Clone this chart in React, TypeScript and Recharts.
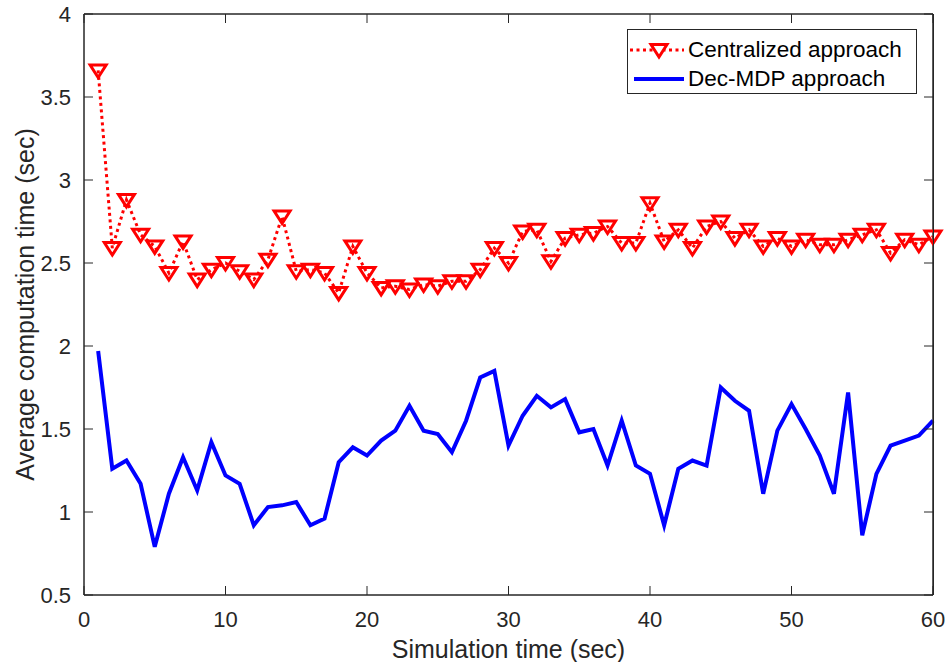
import { LineChart, Line, XAxis, YAxis, Legend, CartesianGrid } from 'recharts'

// Tiempo medio de cómputo por segundo de simulación: enfoque centralizado
// (línea punteada con triángulos) frente a Dec-MDP (línea continua azul).

const simTime = [
  1, 2, 3, 4, 5, 6, 7, 8, 9, 10, 11, 12, 13, 14, 15, 16, 17, 18, 19, 20,
  21, 22, 23, 24, 25, 26, 27, 28, 29, 30, 31, 32, 33, 34, 35, 36, 37, 38, 39, 40,
  41, 42, 43, 44, 45, 46, 47, 48, 49, 50, 51, 52, 53, 54, 55, 56, 57, 58, 59, 60,
]

const centralized = [
  3.66, 2.59, 2.88, 2.67, 2.60, 2.44, 2.63, 2.40, 2.46, 2.50,
  2.45, 2.40, 2.52, 2.78, 2.45, 2.46, 2.44, 2.32, 2.60, 2.44,
  2.35, 2.36, 2.34, 2.37, 2.36, 2.39, 2.39, 2.46, 2.59, 2.50,
  2.69, 2.70, 2.51, 2.65, 2.67, 2.68, 2.72, 2.62, 2.62, 2.86,
  2.63, 2.70, 2.59, 2.72, 2.75, 2.65, 2.70, 2.60, 2.65, 2.60,
  2.64, 2.61, 2.61, 2.64, 2.67, 2.70, 2.56, 2.64, 2.61, 2.66,
]

const decMdp = [
  1.97, 1.26, 1.31, 1.17, 0.79, 1.11, 1.33, 1.13, 1.42, 1.22,
  1.17, 0.92, 1.03, 1.04, 1.06, 0.92, 0.96, 1.30, 1.39, 1.34,
  1.43, 1.49, 1.64, 1.49, 1.47, 1.36, 1.55, 1.81, 1.85, 1.40,
  1.58, 1.70, 1.63, 1.68, 1.48, 1.50, 1.28, 1.55, 1.28, 1.23,
  0.92, 1.26, 1.31, 1.28, 1.75, 1.67, 1.61, 1.11, 1.49, 1.65,
  1.50, 1.34, 1.11, 1.72, 0.86, 1.23, 1.40, 1.43, 1.46, 1.55,
]

const xTicks = [0, 10, 20, 30, 40, 50, 60]
const yTicks = [0.5, 1, 1.5, 2, 2.5, 3, 3.5, 4]

const data = simTime.map((t, i) => ({ t, centralized: centralized[i], decMdp: decMdp[i] }))

const FONT = '"Liberation Sans", Arial, Helvetica, sans-serif'
const AX = '#262626'
const RED = '#ff0000'
const BLUE = '#0000ff'

function triPoints(cx: number, cy: number): string {
  return `${cx - 8},${cy - 5.5} ${cx + 8},${cy - 5.5} ${cx},${cy + 7}`
}

function TriDot(props: { cx?: number; cy?: number; index?: number }) {
  const { cx, cy } = props
  if (cx == null || cy == null) return null
  return <polygon points={triPoints(cx, cy)} fill="none" stroke={RED} strokeWidth={3} strokeLinejoin="miter" />
}

interface LegendItem { value: string; dataKey?: string }
function LegendBox({ payload }: { payload?: LegendItem[] }) {
  return (
    <div style={{ width: 288, height: 63, border: `1px solid ${AX}`, background: '#fff', position: 'relative', fontFamily: FONT }}>
      {(payload ?? []).map((p, i) => {
        const esCentral = p.dataKey === 'centralized'
        return (
          <div key={p.value} style={{ position: 'absolute', left: 0, top: 5 + i * 29, height: 30, display: 'flex', alignItems: 'center' }}>
            <svg width={60} height={30} style={{ display: 'block' }}>
              {esCentral ? (
                <>
                  <line x1={2} x2={56} y1={15} y2={15} stroke={RED} strokeWidth={3} strokeDasharray="3 3.5" />
                  <polygon points={triPoints(31, 15)} fill="#fff" stroke={RED} strokeWidth={3} />
                </>
              ) : (
                <line x1={6} x2={56} y1={15} y2={15} stroke={BLUE} strokeWidth={4} />
              )}
            </svg>
            <span style={{ fontSize: 22.5, color: '#000', lineHeight: '30px', whiteSpace: 'nowrap' }}>{p.value}</span>
          </div>
        )
      })}
    </div>
  )
}

// Marco tipo "box on": sólo los bordes del área de trazado.
const frameX = ({ offset }: any) => [offset.left, offset.left + offset.width]
const frameY = ({ offset }: any) => [offset.top, offset.top + offset.height]

export default function App() {
  return (
    <div style={{ position: 'absolute', left: 0, top: 0, width: 946, height: 662, background: '#fff', fontFamily: FONT }}>
      <LineChart width={946} height={662} data={data} margin={{ top: 13, right: 12, bottom: 0, left: 0 }}>
        <CartesianGrid
          xAxisId="b" yAxisId="l" stroke={AX} strokeWidth={1}
          verticalCoordinatesGenerator={frameX} horizontalCoordinatesGenerator={frameY}
        />
        <XAxis
          xAxisId="b" dataKey="t" type="number" domain={[0, 60]} ticks={xTicks} height={67}
          tickSize={-9} tickMargin={25} stroke={AX} tick={{ fill: AX, fontSize: 22 }}
          label={{ value: 'Simulation time (sec)', position: 'insideBottom', offset: 4, style: { fill: AX, fontSize: 25 } }}
        />
        <XAxis
          xAxisId="t" orientation="top" dataKey="t" type="number" domain={[0, 60]} ticks={xTicks} height={1}
          tickSize={-9} stroke={AX} tickFormatter={() => ''}
        />
        <YAxis
          yAxisId="l" type="number" domain={[0.5, 4]} ticks={yTicks} width={84}
          tickSize={-9} tickMargin={22} stroke={AX} tick={{ fill: AX, fontSize: 22 }}
          label={{ value: 'Average computation time (sec)', angle: -90, position: 'insideLeft', offset: 25, style: { textAnchor: 'middle', fill: AX, fontSize: 25 } }}
        />
        <YAxis
          yAxisId="r" orientation="right" dataKey="decMdp" type="number" domain={[0.5, 4]} ticks={yTicks} width={1}
          tickSize={-9} stroke={AX} tickFormatter={() => ''}
        />
        <Legend
          layout="vertical" align="center" verticalAlign="middle"
          wrapperStyle={{ left: 627, top: 29, width: 290, height: 65 }}
          content={(props: any) => <LegendBox payload={props.payload} />}
        />
        <Line
          xAxisId="b" yAxisId="l" dataKey="centralized" name="Centralized approach"
          stroke={RED} strokeWidth={3} strokeDasharray="3 3.5" type="linear"
          dot={(p: any) => <TriDot key={`c-${p.index}`} cx={p.cx} cy={p.cy} />}
          activeDot={false} isAnimationActive={false}
        />
        <Line
          xAxisId="b" yAxisId="l" dataKey="decMdp" name="Dec-MDP approach"
          stroke={BLUE} strokeWidth={4} type="linear" dot={false}
          activeDot={false} isAnimationActive={false}
        />
      </LineChart>
      {/* borde derecho del marco */}
      <div style={{ position: 'absolute', left: 933, top: 14, width: 0, height: 581, borderLeft: `1px solid ${AX}`, pointerEvents: 'none' }} />
    </div>
  )
}
